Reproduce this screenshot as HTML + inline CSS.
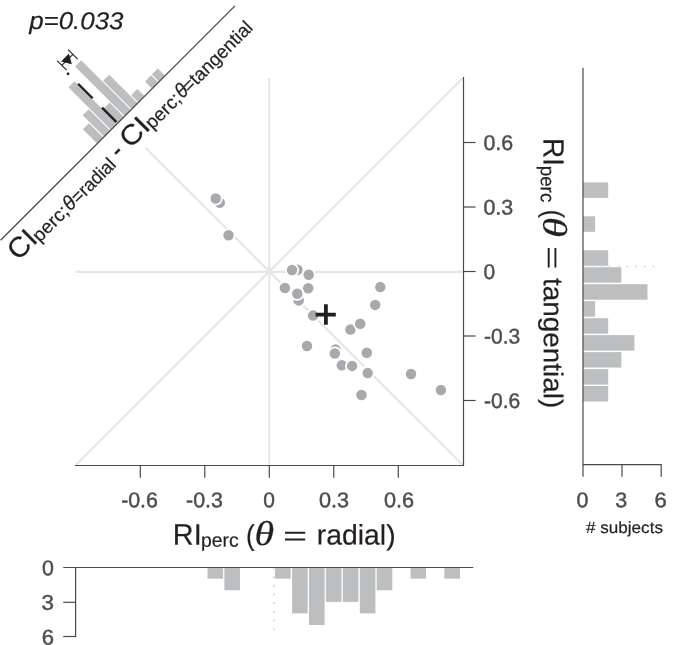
<!DOCTYPE html>
<html><head><meta charset="utf-8"><title>Figure</title>
<style>
html,body{margin:0;padding:0;background:#fff;}
body{width:685px;height:645px;overflow:hidden;font-family:"Liberation Sans",sans-serif;}
svg{display:block;will-change:transform;}
text{font-family:"Liberation Sans",sans-serif;}
.tk{fill:#4d4d4f;stroke:#4d4d4f;stroke-width:0.45;}
.ax{stroke:#4a4a4c;stroke-width:1.2;fill:none;}
.gl{stroke:#e5e5e6;stroke-width:2.1;fill:none;}
.bar{fill:#bcbec0;}
.pt{fill:#a7a9ac;stroke:#fff;stroke-width:1.8;}
.lab{fill:#231f20;stroke:#231f20;stroke-width:0.2;}
.eq{stroke:#231f20;stroke-width:1.9;fill:none;}
.it{font-style:italic;}
.th{font-family:"Liberation Serif",serif;font-style:italic;}
</style></head><body>
<svg width="685" height="645" viewBox="0 0 685 645">
<rect x="0" y="0" width="685" height="645" fill="#fff"/>

<g class="gl">
<line x1="75.80000000000001" y1="271.85" x2="462.8" y2="271.85"/>
<line x1="269.3" y1="78.0" x2="269.3" y2="465.0"/>
<line x1="75.80000000000001" y1="465.0" x2="462.8" y2="78.0"/>
<line x1="145.3" y1="147.5" x2="462.8" y2="465.0"/>
</g>
<g class="pt">
<circle cx="219.8" cy="202.7" r="6.15"/>
<circle cx="297.5" cy="269.7" r="6.15"/>
<circle cx="298.7" cy="300.4" r="6.15"/>
<circle cx="335.5" cy="349.6" r="6.15"/>
<circle cx="215.7" cy="198.5" r="6.15"/>
<circle cx="228.5" cy="235.2" r="6.15"/>
<circle cx="292" cy="270" r="6.15"/>
<circle cx="308.7" cy="274.7" r="6.15"/>
<circle cx="284.9" cy="288" r="6.15"/>
<circle cx="308.2" cy="288.2" r="6.15"/>
<circle cx="297.3" cy="293.7" r="6.15"/>
<circle cx="313.1" cy="315.6" r="6.15"/>
<circle cx="380.3" cy="287.1" r="6.15"/>
<circle cx="375.2" cy="304.9" r="6.15"/>
<circle cx="350.4" cy="329.6" r="6.15"/>
<circle cx="360.2" cy="323.8" r="6.15"/>
<circle cx="307" cy="346" r="6.15"/>
<circle cx="334.8" cy="353.5" r="6.15"/>
<circle cx="366.8" cy="352.8" r="6.15"/>
<circle cx="341.8" cy="365.2" r="6.15"/>
<circle cx="352.1" cy="365.9" r="6.15"/>
<circle cx="367.7" cy="373.1" r="6.15"/>
<circle cx="361.5" cy="395" r="6.15"/>
<circle cx="411" cy="374" r="6.15"/>
<circle cx="440.9" cy="390.1" r="6.15"/>
</g>
<path d="M315.6 314.6H335.8M325.9 304.3V324.7" stroke="#231f20" stroke-width="3.8" fill="none"/>
<g class="ax">
<path d="M74.9 465.5H463.2"/>
<path d="M463.5 77.1V466"/>
<path d="M140.3 465.5V477.8"/>
<path d="M463.5 400.5H475.6"/>
<path d="M204.8 465.5V477.8"/>
<path d="M463.5 336.0H475.6"/>
<path d="M269.3 465.5V477.8"/>
<path d="M463.5 271.5H475.6"/>
<path d="M333.8 465.5V477.8"/>
<path d="M463.5 207.0H475.6"/>
<path d="M398.3 465.5V477.8"/>
<path d="M463.5 142.5H475.6"/>
</g>
<g>
<text class="tk" transform="translate(121.14,507.30) rotate(0.03) scale(1.0021,1)" font-size="21.3">-0.6</text>
<text class="tk" transform="translate(186.04,507.30) rotate(0.03) scale(1.0021,1)" font-size="21.3">-0.3</text>
<text class="tk" transform="translate(263.16,507.30) rotate(0.03) scale(0.9832,1)" font-size="21.3">0</text>
<text class="tk" transform="translate(319.03,507.30) rotate(0.03) scale(1.0162,1)" font-size="21.3">0.3</text>
<text class="tk" transform="translate(383.93,507.30) rotate(0.03) scale(1.0162,1)" font-size="21.3">0.6</text>
<text class="tk" transform="translate(483.95,407.90) rotate(0.03) scale(0.9878,1)" font-size="21.3">-0.6</text>
<text class="tk" transform="translate(483.95,343.40) rotate(0.03) scale(0.9878,1)" font-size="21.3">-0.3</text>
<text class="tk" transform="translate(483.46,278.90) rotate(0.03) scale(0.9832,1)" font-size="21.3">0</text>
<text class="tk" transform="translate(483.44,214.40) rotate(0.03) scale(1.0054,1)" font-size="21.3">0.3</text>
<text class="tk" transform="translate(483.44,149.90) rotate(0.03) scale(1.0054,1)" font-size="21.3">0.6</text>
</g>
<g>
<text class="lab" transform="translate(172.82,544.80) rotate(0.03) scale(0.9681,1)" font-size="29.8">RI</text>
<text class="lab" transform="translate(201.04,546.80) rotate(0.03) scale(0.9910,1)" font-size="19.5">perc</text>
<text class="lab" transform="translate(246.08,545.00) rotate(0.03) scale(0.9089,1)" font-size="28.5">(</text>
<text class="lab" transform="translate(254.50,545.00) rotate(0.03) scale(1.1561,1)" font-size="34.6"><tspan class="th">θ</tspan></text>
<path class="eq" d="M285 532.7H305.2M285 539.5H305.2"/>
<text class="lab" transform="translate(316.79,544.60) rotate(0.03) scale(1.0059,1)" font-size="28.2">radial)</text>
</g>
<g transform="translate(543.2,0) rotate(90)">
<text class="lab" transform="translate(137.88,-0.40) rotate(0.03) scale(0.9631,1)" font-size="29.2">RI</text>
<text class="lab" transform="translate(165.68,2.40) rotate(0.03) scale(0.9661,1)" font-size="19.5">perc</text>
<text class="lab" transform="translate(209.75,-0.30) rotate(0.03) scale(0.8688,1)" font-size="28.5">(</text>
<text class="lab" transform="translate(216.64,0.00) rotate(0.03) scale(1.1976,1)" font-size="34.4"><tspan class="th">θ</tspan></text>
<path class="eq" d="M247.9 -5.5H267.4M247.9 -12.2H267.4"/>
<text class="lab" transform="translate(277.88,-0.60) rotate(0.03) scale(1.0233,1)" font-size="27.3">tangential)</text>
</g>
<g class="bar">
<rect x="207.5" y="567.5" width="15.6" height="11.2"/>
<rect x="224.4" y="567.5" width="15.6" height="22.8"/>
<rect x="275.1" y="567.5" width="15.6" height="11.2"/>
<rect x="292.1" y="567.5" width="15.6" height="45.9"/>
<rect x="309.0" y="567.5" width="15.6" height="57.5"/>
<rect x="325.9" y="567.5" width="15.6" height="34.4"/>
<rect x="342.8" y="567.5" width="15.6" height="34.4"/>
<rect x="359.8" y="567.5" width="15.6" height="45.9"/>
<rect x="376.7" y="567.5" width="15.6" height="22.8"/>
<rect x="410.5" y="567.5" width="15.6" height="11.2"/>
<rect x="444.4" y="567.5" width="15.6" height="11.2"/>
</g>
<path d="M274.1 567.4V631" stroke="#dedfe0" stroke-width="2.1" stroke-dasharray="2.1 6.58" fill="none"/>
<g class="ax"><path d="M63.2 567.5H473.2"/><path d="M75.6 567.5V636.5"/><path d="M63.2 602.3H75.6"/><path d="M63.2 636.5H76.2"/></g>
<text class="tk" transform="translate(41.95,575.20) rotate(0.03) scale(1.0029,1)" font-size="21.3">0</text>
<text class="tk" transform="translate(41.56,609.80) rotate(0.03) scale(1.0477,1)" font-size="21.3">3</text>
<text class="tk" transform="translate(41.70,644.40) rotate(0.03) scale(1.0354,1)" font-size="21.3">6</text>
<g class="bar">
<rect x="583" y="182.4" width="25.2" height="15.5"/>
<rect x="583" y="216.3" width="12.1" height="15.5"/>
<rect x="583" y="250.3" width="25.2" height="15.5"/>
<rect x="583" y="267.2" width="38.3" height="15.5"/>
<rect x="583" y="284.2" width="64.5" height="15.5"/>
<rect x="583" y="301.2" width="12.1" height="15.5"/>
<rect x="583" y="318.2" width="25.2" height="15.5"/>
<rect x="583" y="335.1" width="51.4" height="15.5"/>
<rect x="583" y="352.1" width="38.3" height="15.5"/>
<rect x="583" y="369.1" width="25.2" height="15.5"/>
<rect x="583" y="386.0" width="25.2" height="15.5"/>
</g>
<path d="M582.7 266.5H656" stroke="#dedfe0" stroke-width="2.1" stroke-dasharray="2.1 6.61" fill="none"/>
<g class="ax"><path d="M583 67.7V476.8"/><path d="M583 464.6H661.2V476.8"/><path d="M622 464.6V476.8"/></g>
<text class="tk" transform="translate(576.55,507.30) rotate(0.03) scale(1.0029,1)" font-size="21.3">0</text>
<text class="tk" transform="translate(615.29,507.30) rotate(0.03) scale(1.0082,1)" font-size="21.3">3</text>
<text class="tk" transform="translate(654.40,507.30) rotate(0.03) scale(1.0354,1)" font-size="21.3">6</text>
<text class="lab" transform="translate(586.01,533.00) rotate(0.03) scale(1.0554,1)" font-size="16.2"># subjects</text>
<text class="lab" transform="translate(29.15,29.10) rotate(0.03) scale(1.0572,1)" font-size="24.5"><tspan class="it">p=0.033</tspan></text>
<g transform="translate(119.75,119.75) rotate(-45)">
<g transform="translate(0,0.7)">
<g class="bar">
<rect x="-32.80" y="-20.00" width="8.6" height="20.00"/>
<rect x="-23.08" y="-30.00" width="8.6" height="30.00"/>
<rect x="-13.36" y="-60.00" width="8.6" height="60.00"/>
<rect x="-3.64" y="-20.00" width="8.6" height="20.00"/>
<rect x="6.08" y="-70.00" width="8.6" height="70.00"/>
<rect x="15.80" y="-40.00" width="8.6" height="40.00"/>
<rect x="25.52" y="-10.00" width="8.6" height="10.00"/>
<rect x="44.96" y="-10.00" width="8.6" height="10.00"/>
<rect x="54.68" y="-10.00" width="8.6" height="10.00"/>
</g>
<path d="M-4 -1.3V-21.8M-4 -35.1V-55.6" stroke="#231f20" stroke-width="2.4" fill="none"/>
<circle cx="-4" cy="-69.8" r="1.35" fill="#231f20"/>
<path d="M-2.5 -80.1H13.1M-2.5 -86.8V-73.4M13.1 -86.8V-73.4" stroke="#231f20" stroke-width="1.1" fill="none"/>
<path d="M-0.3 -83.4H10.9L5.3 -73.8Z" fill="#231f20"/>
<path d="M-169.5 0.25H162" class="ax" style="stroke-width:1.3;stroke:#4a4a4c"/>
</g>
<g stroke="#231f20" stroke-width="0.35">
<text class="lab" transform="translate(-172.07,28.40) rotate(0.03) scale(1.0496,1)" font-size="28.0">CI</text>
<text class="lab" transform="translate(-143.65,30.50) rotate(0.03) scale(1.0132,1)" font-size="19.0">perc;</text>
<text class="lab" transform="translate(-100.18,30.00) rotate(0.03) scale(0.9604,1)" font-size="20.5"><tspan class="it">θ</tspan></text>
<text class="lab" transform="translate(-89.31,30.50) rotate(0.03) scale(0.9541,1)" font-size="19.0">=radial</text>
<text class="lab" transform="translate(-28.45,28.40) rotate(0.03) scale(0.8877,1)" font-size="28.8">-</text>
<text class="lab" transform="translate(-13.30,28.40) rotate(0.03) scale(1.0746,1)" font-size="28.0">CI</text>
<text class="lab" transform="translate(15.87,30.50) rotate(0.03) scale(0.9979,1)" font-size="19.0">perc;</text>
<text class="lab" transform="translate(58.84,30.00) rotate(0.03) scale(0.9402,1)" font-size="20.5"><tspan class="it">θ</tspan></text>
<text class="lab" transform="translate(67.67,30.50) rotate(0.03) scale(0.9803,1)" font-size="19.0">=tangential</text>
</g>
</g>
</svg></body></html>
